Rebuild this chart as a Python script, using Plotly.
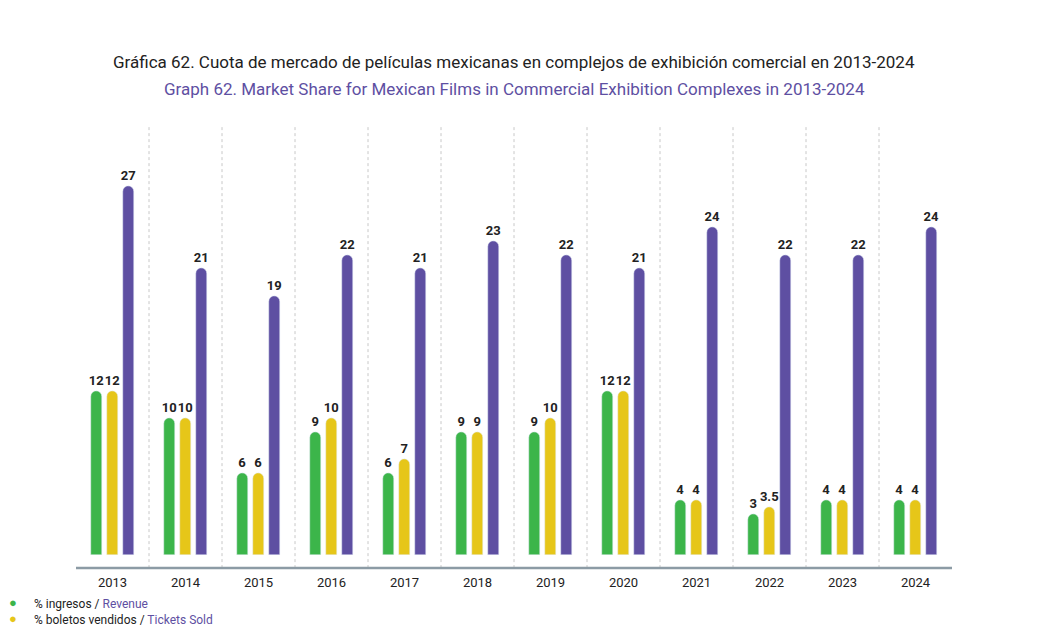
import plotly.graph_objects as go

years = ["2013", "2014", "2015", "2016", "2017", "2018", "2019", "2020", "2021", "2022", "2023", "2024"]
revenue = [12, 10, 6, 9, 6, 9, 9, 12, 4, 3, 4, 4]
tickets = [12, 10, 6, 10, 7, 9, 10, 12, 4, 3.5, 4, 4]
films = [27, 21, 19, 22, 21, 23, 22, 21, 24, 22, 22, 24]

GREEN = "#3cb54a"
YELLOW = "#e6c619"
PURPLE = "#5e4fa2"

x = list(range(len(years)))
fig = go.Figure()
for vals, col, off in [(revenue, GREEN, -0.22), (tickets, YELLOW, 0.0), (films, PURPLE, 0.22)]:
    fig.add_trace(go.Bar(
        x=[i + off for i in x], y=vals, width=0.15,
        marker=dict(color=col, cornerradius=6),
        text=[f"{v:g}" for v in vals], textposition="outside", cliponaxis=False,
        constraintext="none",
        textfont=dict(size=13, color="#222", family="Roboto", weight="bold"),
        showlegend=False))

# dashed separators between years
for i in range(1, len(years)):
    fig.add_shape(type="line", xref="x", yref="paper", x0=i - 0.5, x1=i - 0.5, y0=-0.03, y1=0.98,
                  line=dict(color="#c8c8c8", width=1, dash="dot"))
fig.add_shape(type="line", xref="paper", yref="paper", x0=0, x1=1, y0=-0.03, y1=-0.03,
              line=dict(color="#8c9ba5", width=2.5))

fig.add_annotation(text="Gráfica 62. Cuota de mercado de películas mexicanas en complejos de exhibición comercial en 2013-2024",
                   xref="paper", yref="paper", x=0.5, y=1.129, yanchor="middle", showarrow=False,
                   font=dict(size=17, color="#222", family="Roboto"))
fig.add_annotation(text="Graph 62. Market Share for Mexican Films in Commercial Exhibition Complexes in 2013-2024",
                   xref="paper", yref="paper", x=0.5, y=1.067, yanchor="middle", showarrow=False,
                   font=dict(size=17, color=PURPLE, family="Roboto"))

legend = [(GREEN, "% ingresos / ", "Revenue"), (YELLOW, "% boletos vendidos / ", "Tickets Sold")]
for k, (col, es, en) in enumerate(legend):
    yy = -0.133 - k * 0.036
    fig.add_annotation(text="●", xref="paper", yref="paper", x=-0.072, y=yy, xanchor="center",
                       showarrow=False, font=dict(size=13, color=col))
    fig.add_annotation(text=f"{es}<span style='color:{PURPLE}'>{en}</span>", xref="paper", yref="paper",
                       x=-0.05, y=yy, xanchor="left", showarrow=False,
                       font=dict(size=12, color="#222", family="Roboto"))

fig.update_layout(
    width=1046, height=641, plot_bgcolor="white", paper_bgcolor="white",
    margin=dict(l=68, r=102, t=110, b=94), bargap=0,
    xaxis=dict(range=[-0.5, 11.5], tickvals=x, ticktext=years, showgrid=False, zeroline=False,
               tickfont=dict(size=13, color="#222", family="Roboto"), ticks="", ticklabelstandoff=18),
    yaxis=dict(range=[0, 32.0], visible=False),
)
fig.write_html("out.html")
